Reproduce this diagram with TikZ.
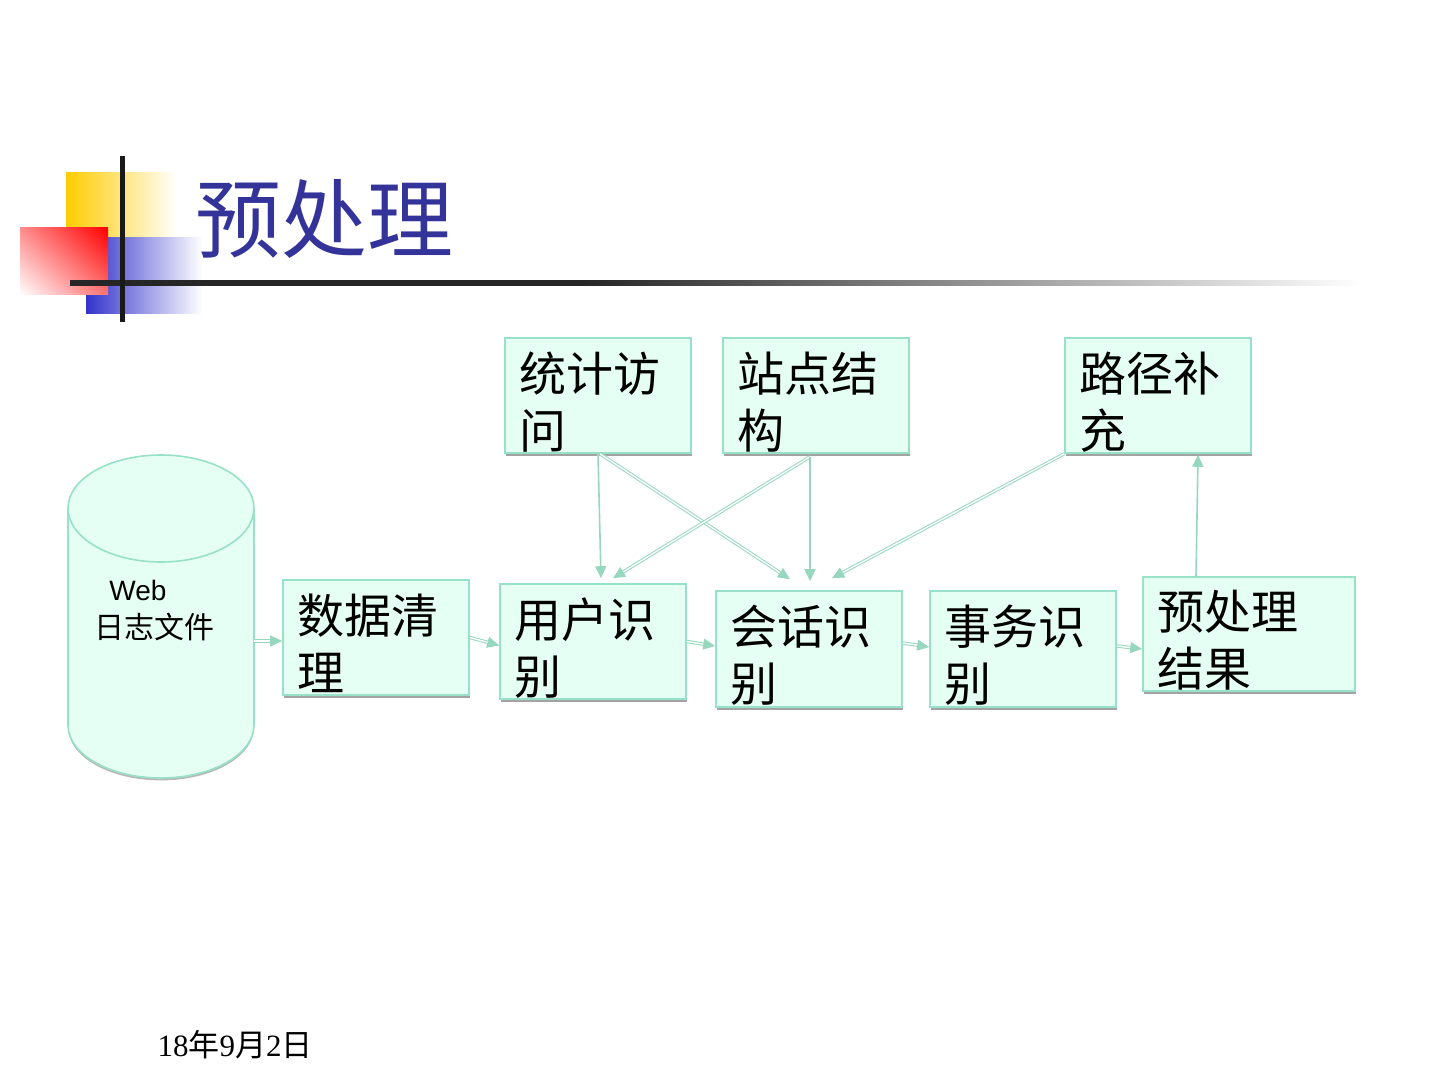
\documentclass[tikz,border=0pt]{standalone}
\usepackage{fontspec}
\setmainfont{Liberation Serif}
\newfontfamily\cjk{Noto Sans CJK SC}
\newfontfamily\arialf{Liberation Sans}
\usetikzlibrary{arrows.meta,shadows,calc,shadings}
\definecolor{mintfill}{RGB}{230,255,244}
\definecolor{mintdraw}{RGB}{150,225,200}
\definecolor{arrowc}{RGB}{150,215,190}
\definecolor{titleblue}{RGB}{51,51,153}
\definecolor{decoyellow}{RGB}{255,204,0}
\definecolor{decored}{RGB}{255,0,0}
\definecolor{decoblue}{RGB}{51,51,204}
\pgfdeclarehorizontalshading{titlelineshade}{100bp}{color(0bp)=(black!85); color(25bp)=(black!85); color(45bp)=(black!85); color(75bp)=(white); color(100bp)=(white)}
\tikzset{
  procbox/.style={draw=mintdraw, line width=0.8pt, fill=mintfill, inner sep=0pt,
    minimum width=93pt, minimum height=57.5pt,
    drop shadow={shadow xshift=0.6pt, shadow yshift=-1.4pt, fill=black!40, opacity=0.9}},
  boxtext/.style={anchor=north west, inner sep=0pt, align=left,
    font=\cjk\fontsize{23.5}{28.5}\selectfont},
  flow/.style={draw=arrowc, line width=0.5pt, double=white, double distance=0.7pt,
    -{Triangle[length=6pt,width=5.5pt,fill=arrowc]}},
  flowsingle/.style={draw=arrowc, line width=0.8pt,
    -{Triangle[length=6pt,width=5.5pt,fill=arrowc]}}
}
\begin{document}
\begin{tikzpicture}[x=0.5pt,y=-0.5pt]
\useasboundingbox (0,0) rectangle (1440,1080);
% decoration
\fill[left color=decoyellow, middle color=decoyellow, right color=white] (66,173) rectangle (177,283);
\fill[left color=decoblue, middle color=decoblue, right color=white] (86,238) rectangle (202,314);
\shade[upper left=decored!45!white, upper right=decored, lower left=white, lower right=decored!55!white] (20,228) rectangle (108,295);
\shade[shading=titlelineshade] (70,280.5) rectangle (1362,285.5);
\fill[black!90] (120,156) rectangle (124.5,322);
% title
\node[anchor=west, inner sep=0pt, text=titleblue, font=\cjk\fontsize{43}{50}\selectfont] (title) at (195,219) {预处理};
% cylinder
\path[fill=mintfill, draw=mintdraw, line width=0.8pt,
  drop shadow={shadow xshift=0pt, shadow yshift=-1.2pt, fill=black!35, opacity=0.8}]
  (68,508) -- (68,725) arc[start angle=180, end angle=0, x radius=93, y radius=53]
  -- (254,508) arc[start angle=0, end angle=-180, x radius=93, y radius=53] -- cycle;
\draw[mintdraw, line width=0.8pt] (68,508) arc[start angle=180, end angle=0, x radius=93, y radius=54];
\coordinate (db) at (254,641);
\node[anchor=base west, inner sep=0pt, font=\arialf\fontsize{14}{16}\selectfont] (web) at (109,600) {Web};
\node[anchor=west, inner sep=0pt, font=\cjk\fontsize{15}{18}\selectfont] (rz) at (94,627) {日志文件};
% boxes
\node[procbox] (tj) at (598,395.5) {};
\node[procbox] (zd) at (816,395.5) {};
\node[procbox] (lj) at (1158,395.5) {};
\node[procbox] (sj) at (376,637.5) {};
\node[procbox] (yh) at (593,641.5) {};
\node[procbox, minimum height=58pt] (hh) at (809,649) {};
\node[procbox, minimum height=58pt] (sw) at (1023,649) {};
\node[procbox, minimum width=106pt, minimum height=57pt] (jg) at (1249,634) {};
\node[boxtext] (tjt) at ([shift={(15,14)}]tj.north west) {统计访\\问};
\node[boxtext] (zdt) at ([shift={(15,14)}]zd.north west) {站点结\\构};
\node[boxtext] (ljt) at ([shift={(15,14)}]lj.north west) {路径补\\充};
\node[boxtext] (sjt) at ([shift={(15,14)}]sj.north west) {数据清\\理};
\node[boxtext] (yht) at ([shift={(15,14)}]yh.north west) {用户识\\别};
\node[boxtext] (hht) at ([shift={(15,14)}]hh.north west) {会话识\\别};
\node[boxtext] (swt) at ([shift={(15,14)}]sw.north west) {事务识\\别};
\node[boxtext] (jgt) at ([shift={(15,14)}]jg.north west) {预处理\\结果};
% connectors
\draw[flow] (db) -- (db -| sj.west);
\draw[flow] (sj.east) -- ($(yh.west)+(0,4)$);
\draw[flow] (yh.east) -- ($(hh.west)+(0,-3)$);
\draw[flow] ($(hh.east)+(0,-6)$) -- ($(sw.west)+(0,-2)$);
\draw[flow] ($(sw.east)+(0,-3)$) -- ($(jg.west)+(0,15)$);
\draw[flowsingle] (tj.south) -- ($(yh.north)+(8,-5)$);
\draw[flow] ($(tj.south)+(2,0)$) -- ($(hh.north)+(-19,-11)$);
\draw[flow] ($(zd.south)+(-6,3)$) -- ($(yh.north)+(20,-5)$);
\draw[flowsingle] ($(zd.south)+(-6,3)$) -- ($(hh.north)+(1,-9)$);
\draw[flow] (lj.south west) -- ($(hh.north)+(23,-12)$);
\draw[flowsingle] ($(jg.north)+(-53,0)$) -- ($(lj.south)+(40,1)$);
% date
\node[inner sep=0pt, font=\fontsize{15.5}{18}\selectfont] (date) at (235,1045) {18{\cjk 年}9{\cjk 月}2{\cjk 日}};
\end{tikzpicture}
\end{document}
